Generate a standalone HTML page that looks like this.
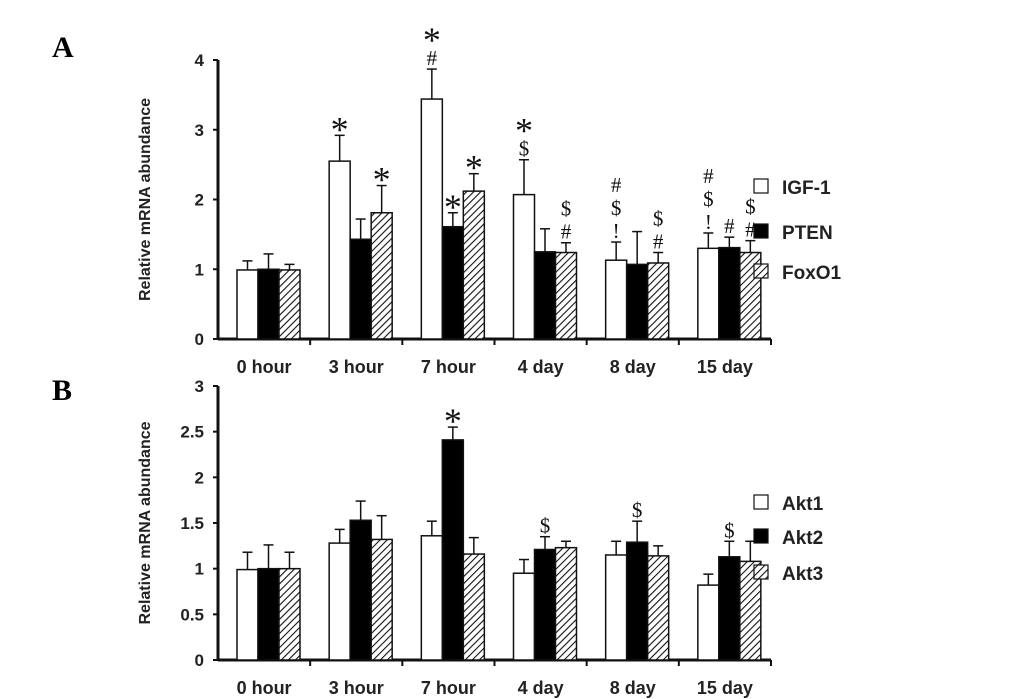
<!DOCTYPE html>
<html><head><meta charset="utf-8"><style>
body{margin:0;background:#fff}
svg{display:block;font-family:"Liberation Sans",sans-serif}
.t{font-weight:bold;fill:#222}
.ann{font-family:"Liberation Serif",serif;fill:#111}
</style></head><body>
<svg id="c" width="1033" height="699">
<defs><pattern id="hatch" patternUnits="userSpaceOnUse" width="5" height="5" patternTransform="rotate(45)"><rect width="5" height="5" fill="#fff"/><line x1="0" y1="0" x2="0" y2="5" stroke="#111" stroke-width="2.2"/></pattern></defs>
<text x="52" y="57" font-family="Liberation Serif,serif" font-weight="bold" font-size="30">A</text>
<text x="52" y="400" font-family="Liberation Serif,serif" font-weight="bold" font-size="30">B</text>
</svg>
<script>
const categories=["0 hour","3 hour","7 hour","4 day","8 day","15 day"];
const seriesA=["IGF-1","PTEN","FoxO1"];
const igf=[0.99,2.55,3.44,2.07,1.13,1.30];
const igfErr=[1.12,2.92,3.87,2.57,1.39,1.52];
const pten=[1.0,1.43,1.61,1.25,1.07,1.31];
const ptenErr=[1.22,1.72,1.81,1.58,1.54,1.46];
const foxo=[0.99,1.81,2.12,1.24,1.09,1.24];
const foxoErr=[1.07,2.2,2.37,1.38,1.24,1.41];
const annA=[[[],[],[]],[["*"],[],["*"]],[["*","#"],["*"],["*"]],[["*","$"],[],["$","#"]],[["#","$","!"],[],["$","#"]],[["#","$","!"],["#"],["$","#"]]];
const yTicksA=[0,1,2,3,4];
const seriesB=["Akt1","Akt2","Akt3"];
const akt1=[0.99,1.28,1.36,0.95,1.15,0.82];
const akt1Err=[1.18,1.43,1.52,1.1,1.3,0.94];
const akt2=[1.0,1.53,2.41,1.21,1.29,1.13];
const akt2Err=[1.26,1.74,2.55,1.35,1.52,1.3];
const akt3=[1.0,1.32,1.16,1.23,1.14,1.08];
const akt3Err=[1.18,1.58,1.34,1.3,1.25,1.3];
const annB=[[[],[],[]],[[],[],[]],[[],["*"],[]],[[],["$"],[]],[[],["$"],[]],[[],["$"],[]]];
const yTicksB=["0","0.5","1","1.5","2","2.5","3"];

const svg=document.getElementById('c');
const NS="http://www.w3.org/2000/svg";
function mk(tag,attrs,txt){const e=document.createElementNS(NS,tag);for(const k in attrs)e.setAttribute(k,attrs[k]);if(txt!==undefined)e.textContent=txt;svg.appendChild(e);return e;}
const fills=["#fff","#000","url(#hatch)"];
function panel(p){
  const x0=218,x1=771,cw=(x1-x0)/categories.length;
  const y=v=>p.y0-(v/p.max)*(p.y0-p.yTop);
  const ax=mk('line',{x1:x0,y1:p.y0,x2:x1,y2:p.y0,stroke:'#111','stroke-width':3});
  
  
  const ay=mk('line',{x1:x0,y1:p.y0+1,x2:x0,y2:p.yTop,stroke:'#111','stroke-width':3});
  
  
  p.ticks.forEach(t=>{const v=parseFloat(t);const yy=y(v);
    mk('line',{x1:x0-5,y1:yy,x2:x0,y2:yy,stroke:'#111','stroke-width':2});
    const tl=mk('text',{x:x0-14,y:yy+6,'text-anchor':'end',class:'t',style:'font-size:17px'},String(t));
    
    });
  categories.forEach((c,i)=>{
    const gx=x0+i*cw;
    if(i>0)mk('line',{x1:gx,y1:p.y0,x2:gx,y2:p.y0+6,stroke:'#111','stroke-width':2});
    mk('line',{x1:x1,y1:p.y0,x2:x1,y2:p.y0+6,stroke:'#111','stroke-width':2});
    const xl=mk('text',{x:gx+cw/2,y:p.y0+34,'text-anchor':'middle',class:'t',style:'font-size:18px'},c);
    
    
    p.vals.forEach((s,j)=>{
      const bx=gx+19+j*21,bw=21,by=y(s[i]);
      const eTop=y(p.errs[j][i]);
      const el=mk('line',{x1:bx+bw/2,y1:by,x2:bx+bw/2,y2:eTop,stroke:'#111','stroke-width':1.5});
      
      
      mk('line',{x1:bx+bw/2-5,y1:eTop,x2:bx+bw/2+5,y2:eTop,stroke:'#111','stroke-width':1.5});
      const r=mk('rect',{x:bx,y:by,width:bw,height:p.y0-by,fill:fills[j],stroke:'#111','stroke-width':1.5});
      
      
      const an=p.ann[i][j];
      an.forEach((a,k)=>{
        const n=an.length-k;
        const isStar=a==='*';
        const ty=eTop-4-(n-1)*23+(isStar?10:0);
        const txt=mk('text',{x:bx+bw/2,y:ty,'text-anchor':'middle',class:'ann',style:'font-size:'+(isStar?'36px':'21px')},a);
        
        
      });
    });
  });
  const yt=mk('text',{x:0,y:0,'text-anchor':'middle',class:'t',style:'font-size:16px',transform:`translate(150,${(p.y0+p.yTop)/2}) rotate(-90)`},'Relative mRNA abundance');
  
  
  p.names.forEach((n,j)=>{
    const ly=p.legY[j];
    const lb=mk('rect',{x:754,y:ly-15,width:14,height:14,fill:fills[j],stroke:'#111','stroke-width':1.2});
    
    
    const lt=mk('text',{x:782,y:ly,class:'t',style:'font-size:19px'},n);
    
    
  });
}
panel({id:'panel-a',y0:339,yTop:60,max:4,ticks:yTicksA,vals:[igf,pten,foxo],errs:[igfErr,ptenErr,foxoErr],ann:annA,names:seriesA,legY:[194,239,279]});
panel({id:'panel-b',y0:660,yTop:386,max:3,ticks:yTicksB,vals:[akt1,akt2,akt3],errs:[akt1Err,akt2Err,akt3Err],ann:annB,names:seriesB,legY:[510,544,580]});
</script>
</body></html>
